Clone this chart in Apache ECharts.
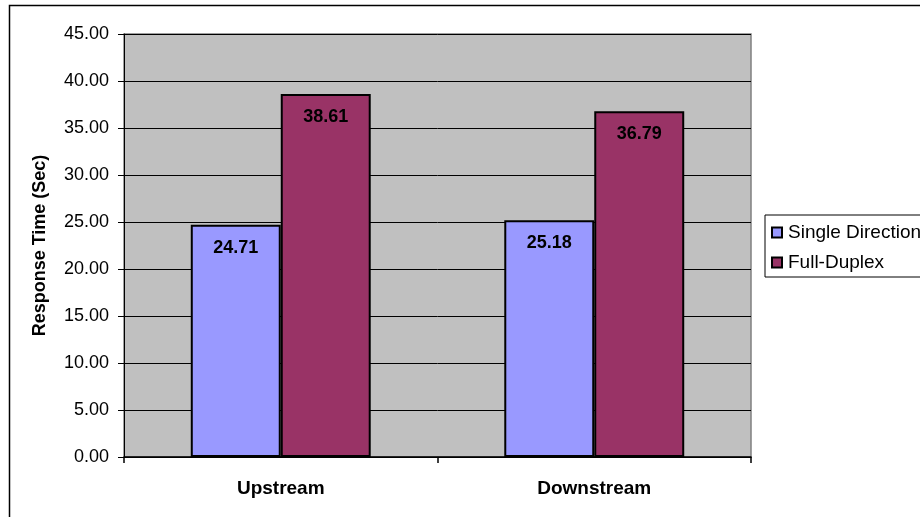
<!DOCTYPE html>
<html>
<head>
<meta charset="utf-8">
<script src="https://cdn.jsdelivr.net/npm/echarts@6/dist/echarts.min.js"></script>
<style>
  html, body { margin: 0; padding: 0; background: #fff; }
  #chart { width: 920px; height: 517px; }
</style>
</head>
<body>
<div id="chart"></div>
<script>
var categories = ['Upstream', 'Downstream'];
var singleDirection = [24.71, 25.18];
var fullDuplex = [38.61, 36.79];
var seriesNames = ['Single Direction', 'Full-Duplex'];

var chart = echarts.init(document.getElementById('chart'));

var barLabel = {
    show: true,
    position: 'insideTop',
    distance: 14,
    color: '#000',
    fontFamily: 'Arial, Liberation Sans',
    fontWeight: 'bold',
    fontSize: 18,
    formatter: function (p) { return p.value.toFixed(2); }
};

var option = {
    backgroundColor: '#fff',
    animation: false,
    graphic: [{
        type: 'rect',
        shape: { x: 9.5, y: 5.5, width: 1000, height: 1000 },
        style: { fill: null, stroke: '#000', lineWidth: 1.5 },
        z: -1
    }],
    grid: {
        left: 124,
        right: 169,
        top: 34,
        bottom: 60,
        show: true,
        backgroundColor: '#C0C0C0',
        borderColor: '#808080',
        borderWidth: 1.5
    },
    legend: {
        data: seriesNames,
        orient: 'vertical',
        left: 765,
        top: 215,
        padding: [8, 160, 5, 6],
        itemGap: 11,
        itemWidth: 10,
        itemHeight: 10,
        icon: 'rect',
        backgroundColor: '#fff',
        borderColor: '#000',
        borderWidth: 1,
        itemStyle: { borderColor: '#000', borderWidth: 2 },
        textStyle: { color: '#000', fontFamily: 'Arial, Liberation Sans', fontSize: 19, padding: [0, 0, 0, 1] }
    },
    xAxis: {
        type: 'category',
        data: categories,
        axisLine: { lineStyle: { color: '#000', width: 1.5 } },
        axisTick: { show: true, length: 6, lineStyle: { color: '#000', width: 1.5 } },
        axisLabel: {
            color: '#000',
            fontFamily: 'Arial, Liberation Sans',
            fontWeight: 'bold',
            fontSize: 19,
            margin: 22
        }
    },
    yAxis: {
        type: 'value',
        min: 0,
        max: 45,
        interval: 5,
        name: 'Response Time (Sec)',
        nameLocation: 'middle',
        nameGap: 75,
        nameTextStyle: { color: '#000', fontFamily: 'Arial, Liberation Sans', fontWeight: 'bold', fontSize: 18 },
        axisLine: { show: true, lineStyle: { color: '#000', width: 1 } },
        axisTick: { show: true, length: 6, lineStyle: { color: '#000' } },
        axisLabel: {
            color: '#000',
            fontFamily: 'Arial, Liberation Sans',
            fontSize: 18,
            margin: 15,
            formatter: function (v) { return v.toFixed(2); }
        },
        splitLine: { lineStyle: { color: '#000', width: 1 } }
    },
    series: [{
        name: seriesNames[0],
        type: 'bar',
        data: singleDirection,
        barGap: '0%',
        barCategoryGap: '42.6%',
        itemStyle: { color: '#9999FF', borderColor: '#000', borderWidth: 2 },
        label: barLabel
    }, {
        name: seriesNames[1],
        type: 'bar',
        data: fullDuplex,
        itemStyle: { color: '#993366', borderColor: '#000', borderWidth: 2 },
        label: barLabel
    }]
};

chart.setOption(option);
</script>
</body>
</html>
